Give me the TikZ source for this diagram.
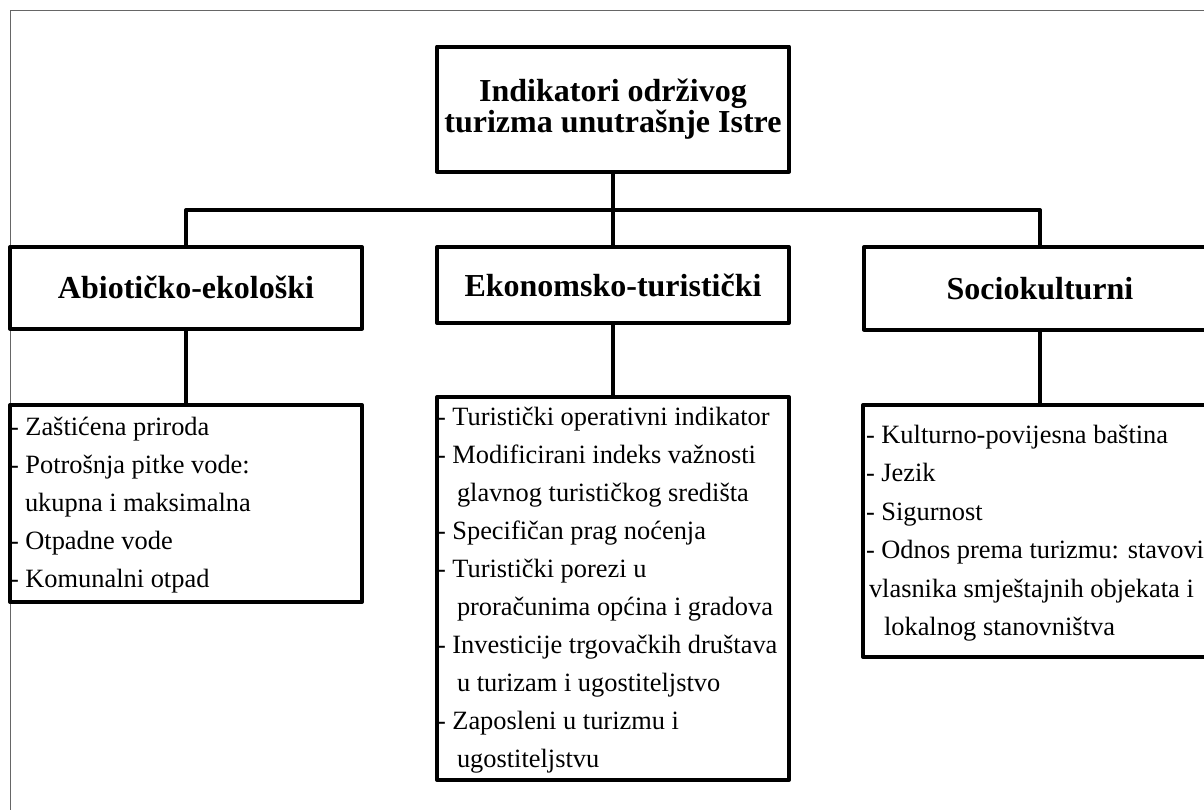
\documentclass[tikz,border=0pt]{standalone}
\usepackage{fontspec}
\setmainfont{Liberation Serif}
\begin{document}
\begin{tikzpicture}[x=1pt,y=-1pt,
  box/.style={draw=black, line width=4pt, line join=round, fill=white, rectangle, inner sep=0pt, outer sep=0pt},
  head/.style={box, font=\fontsize{32}{31}\selectfont\bfseries, align=center},
  item/.style={anchor=base west, inner sep=0pt, outer sep=0pt, font=\fontsize{26.4}{38}\selectfont},
  conn/.style={draw=black, line width=4pt, line join=round},
  frame/.style={draw=black!60, line width=1pt}]
\useasboundingbox (0,0) rectangle (1204,809);
\clip (0,0) rectangle (1204,809);
\draw[frame] (10,820) -- (10,10) -- (1220,10);

% boxes
\node[head, minimum width=352pt, minimum height=125pt] (root) at (613,109) {Indikatori održivog\\turizma unutrašnje Istre};
\node[head, minimum width=352pt, minimum height=81.5pt] (abio) at (186,287.75) {Abiotičko-ekološki};
\node[head, minimum width=352pt, minimum height=76pt] (eko) at (613,285) {Ekonomsko-turistički};
\node[head, minimum width=352pt, minimum height=82.5pt] (socio) at (1040,288.25) {Sociokulturni};
\node[box, minimum width=352pt, minimum height=197pt] (dabio) at (186,503.5) {};
\node[box, minimum width=352pt, minimum height=383pt] (deko) at (613,588.5) {};
\node[box, minimum width=354pt, minimum height=252pt] (dsocio) at (1040,531) {};

% connectors
\coordinate (bus) at (613,210);
\draw[conn] (root.south) -- (eko.north);
\draw[conn] (abio.north) -- (abio.north |- bus) -- (socio.north |- bus) -- (socio.north);
\draw[conn] (abio.south) -- (dabio.north);
\draw[conn] (eko.south) -- (deko.north);
\draw[conn] (socio.south) -- (dsocio.north);

% Abiotic list
\node[item] (a1) at (10,435) {- Zaštićena priroda};
\node[item] (a2) at (10,473) {- Potrošnja pitke vode:};
\node[item] (a3) at (25,511) {ukupna i maksimalna};
\node[item] (a4) at (10,549) {- Otpadne vode};
\node[item] (a5) at (10,587) {- Komunalni otpad};

% Economic list
\node[item] (e1) at (437,425) {- Turistički operativni indikator};
\node[item] (e2) at (437,463) {- Modificirani indeks važnosti};
\node[item] (e3) at (457,501) {glavnog turističkog središta};
\node[item] (e4) at (437,539) {- Specifičan prag noćenja};
\node[item] (e5) at (437,577) {- Turistički porezi u};
\node[item] (e6) at (457,615) {proračunima općina i gradova};
\node[item] (e7) at (437,653) {- Investicije trgovačkih društava};
\node[item] (e8) at (457,691) {u turizam i ugostiteljstvo};
\node[item] (e9) at (437,729) {- Zaposleni u turizmu i};
\node[item] (e10) at (457,767) {ugostiteljstvu};

% Sociocultural list
\node[item] (s1) at (866,443) {- Kulturno-povijesna baština};
\node[item] (s2) at (866,481.5) {- Jezik};
\node[item] (s3) at (866,520) {- Sigurnost};
\node[item] (s4) at (866,558.5) {- Odnos prema turizmu: stavovi};
\node[item] (s5) at (869,597) {vlasnika smještajnih objekata i};
\node[item] (s6) at (884,635) {lokalnog stanovništva};
\end{tikzpicture}
\end{document}
